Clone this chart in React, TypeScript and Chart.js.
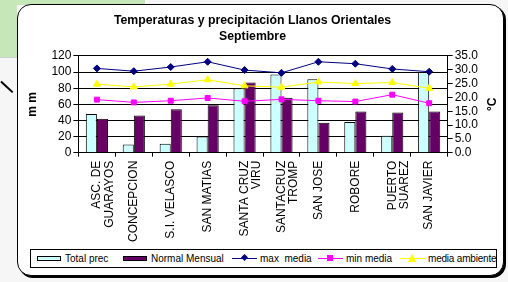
import React, { useEffect, useRef } from "react";
import { Chart, registerables } from "chart.js";

Chart.register(...registerables);

const categories: string[][] = [
  ["ASC. DE", "GUARAYOS"],
  ["CONCEPCION"],
  ["S.I. VELASCO"],
  ["SAN MATIAS"],
  ["SANTA CRUZ", "VIRU"],
  ["SANTACRUZ", "TROMP"],
  ["SAN JOSE"],
  ["ROBORE"],
  ["PUERTO", "SUAREZ"],
  ["SAN JAVIER"],
];
const totalPrec = [48, 10, 11, 20, 80, 97, 91, 38, 21, 100];
const normalMensual = [42, 46, 54, 59, 87, 68, 37, 51, 50, 51];
const maxMedia = [30.5, 29.5, 31.0, 32.9, 29.9, 28.9, 32.9, 32.2, 30.3, 29.3];
const minMedia = [19.2, 18.2, 18.8, 19.8, 18.6, 19.3, 18.8, 18.5, 21.0, 17.9];
const mediaAmbiente = [24.8, 23.8, 24.8, 26.4, 24.2, 23.7, 25.6, 25.0, 25.4, 23.3];
const titleLines = ["Temperaturas y precipitación Llanos Orientales", "Septiembre"];
const leftTitle = "m m";
const rightTitle = "°C";

const FONT = "'Liberation Sans', Arial, sans-serif";

const rightTitlePlugin = {
  id: "rightTitle",
  afterDraw(chart: any) {
    const s = chart.scales.y1;
    const ctx = chart.ctx;
    ctx.save();
    ctx.font = `bold 12px ${FONT}`;
    ctx.fillStyle = "#000";
    ctx.textAlign = "center";
    ctx.textBaseline = "middle";
    ctx.translate(s.right + 13, (s.top + s.bottom) / 2);
    ctx.rotate(-Math.PI / 2);
    ctx.fillText(rightTitle, 0, 0);
    ctx.restore();
  },
};

export default function App() {
  const ref = useRef<HTMLCanvasElement | null>(null);
  useEffect(() => {
    if (!ref.current) return;
    const chart = new Chart(ref.current, {
      type: "bar",
      plugins: [rightTitlePlugin],
      data: {
        labels: categories,
        datasets: [
          {
            type: "line",
            label: "max media",
            data: maxMedia,
            yAxisID: "y1",
            borderColor: "#000080",
            backgroundColor: "#000080",
            borderWidth: 1,
            pointStyle: "rectRot",
            pointRadius: 3.5,
            order: 1,
          },
          {
            type: "line",
            label: "min media",
            data: minMedia,
            yAxisID: "y1",
            borderColor: "#FF00FF",
            backgroundColor: "#FF00FF",
            borderWidth: 1,
            pointStyle: "rect",
            pointRadius: 3.5,
            order: 1,
          },
          {
            type: "line",
            label: "media ambiente",
            data: mediaAmbiente,
            yAxisID: "y1",
            borderColor: "#FFFF00",
            backgroundColor: "#FFFF00",
            borderWidth: 1,
            pointStyle: "triangle",
            pointRadius: 4,
            order: 1,
          },
          {
            type: "bar",
            label: "Total prec",
            data: totalPrec,
            yAxisID: "y",
            backgroundColor: "#CCFFFF",
            borderColor: "#000000",
            borderWidth: 1,
            categoryPercentage: 0.6,
            barPercentage: 1,
            order: 2,
          },
          {
            type: "bar",
            label: "Normal Mensual",
            data: normalMensual,
            yAxisID: "y",
            backgroundColor: "#660066",
            borderColor: "#000000",
            borderWidth: 1,
            categoryPercentage: 0.6,
            barPercentage: 1,
            order: 2,
          },
        ],
      },
      options: {
        animation: false,
        responsive: false,
        maintainAspectRatio: false,
        layout: { padding: { left: 25, right: 28, top: 9, bottom: 36 } },
        plugins: {
          legend: { display: false },
          tooltip: { enabled: false },
          title: {
            display: true,
            text: titleLines,
            color: "#000",
            font: { family: FONT, size: 12.3, weight: "bold", lineHeight: 1.3 },
            padding: { top: 4, bottom: 11 },
          },
        },
        scales: {
          x: {
            grid: {
              offset: true,
              drawOnChartArea: false,
              drawTicks: true,
              tickLength: 4,
              color: "#000",
            },
            border: { color: "#000", width: 1 },
            ticks: {
              color: "#000",
              font: { family: FONT, size: 12, lineHeight: 1.05 },
              minRotation: 90,
              maxRotation: 90,
              autoSkip: false,
              padding: 4,
            },
          },
          y: {
            position: "left",
            min: 0,
            max: 120,
            ticks: {
              stepSize: 20,
              autoSkip: false,
              color: "#000",
              font: { family: FONT, size: 12 },
              padding: 2,
            },
            grid: { color: "#000", lineWidth: 1, tickLength: 5, drawTicks: true },
            border: { color: "#000", width: 1 },
            title: {
              display: true,
              text: leftTitle,
              color: "#000",
              font: { family: FONT, size: 12, weight: "bold" },
              padding: { top: 0, bottom: 10 },
            },
          },
          y1: {
            position: "right",
            min: 0,
            max: 35,
            ticks: {
              stepSize: 5,
              autoSkip: false,
              color: "#000",
              font: { family: FONT, size: 12 },
              padding: 2,
              callback: (v: any) => Number(v).toFixed(1),
            },
            grid: { drawOnChartArea: false, color: "#000", tickLength: 5 },
            border: { color: "#000", width: 1 },
          },
        },
      },
    });
    return () => chart.destroy();
  }, []);

  const legendText: React.CSSProperties = {
    position: "absolute",
    top: 0,
    fontFamily: FONT,
    fontSize: 10,
    lineHeight: "17px",
    color: "#000",
    whiteSpace: "pre",
  };
  const lineMarker = (x: number, color: string, marker: React.ReactNode) => (
    <div style={{ position: "absolute", left: x, top: 8, width: 25, height: 1, background: color }}>
      {marker}
    </div>
  );

  return (
    <div style={{ position: "fixed", left: 0, top: 0, width: 508, height: 282, background: "#f6f6f6", overflow: "hidden" }}>
      <div style={{ position: "absolute", left: 0, top: 0, width: 145, height: 5, background: "#c6e7b8" }} />
      <div style={{ position: "absolute", left: 0, top: 0, width: 17, height: 57, background: "#c6e7b8" }} />
      <div style={{ position: "absolute", left: 0, top: 57, width: 17, height: 1, background: "#cfcfcf" }} />
      <div
        style={{
          position: "absolute",
          left: -1,
          top: 86,
          width: 16,
          height: 1.5,
          background: "#000",
          transform: "rotate(43deg)",
        }}
      />
      <div
        style={{
          position: "absolute",
          left: 17,
          top: 4,
          width: 485,
          height: 270,
          border: "1.5px solid #000",
          borderRadius: 14,
          background: "#fff",
          boxShadow: "2px 2px 0 #000",
        }}
      />
      <canvas ref={ref} width={508} height={282} style={{ position: "absolute", left: 0, top: 0 }} />
      <div
        style={{
          position: "absolute",
          left: 30,
          top: 249,
          width: 467,
          height: 19,
          border: "1px solid #000",
          background: "#fff",
          boxSizing: "border-box",
        }}
      >
        <div style={{ position: "absolute", left: 6, top: 6, width: 24, height: 5, background: "#CCFFFF", border: "1px solid #000", boxSizing: "border-box" }} />
        <div style={{ ...legendText, left: 34 }}>Total prec</div>
        <div style={{ position: "absolute", left: 92, top: 6, width: 24, height: 5, background: "#660066", border: "1px solid #000", boxSizing: "border-box" }} />
        <div style={{ ...legendText, left: 120 }}>Normal Mensual</div>
        {lineMarker(
          201,
          "#000080",
          <div style={{ position: "absolute", left: 10, top: -3, width: 5, height: 5, background: "#000080", transform: "rotate(45deg)" }} />
        )}
        <div style={{ ...legendText, left: 229 }}>{"max  media"}</div>
        {lineMarker(
          287,
          "#FF00FF",
          <div style={{ position: "absolute", left: 9, top: -3, width: 6, height: 6, background: "#FF00FF" }} />
        )}
        <div style={{ ...legendText, left: 315 }}>min media</div>
        {lineMarker(
          369,
          "#FFFF00",
          <div
            style={{
              position: "absolute",
              left: 8,
              top: -4,
              width: 0,
              height: 0,
              borderLeft: "4.5px solid transparent",
              borderRight: "4.5px solid transparent",
              borderBottom: "8px solid #FFFF00",
            }}
          />
        )}
        <div style={{ ...legendText, left: 397, letterSpacing: -0.2 }}>media ambiente</div>
      </div>
    </div>
  );
}
